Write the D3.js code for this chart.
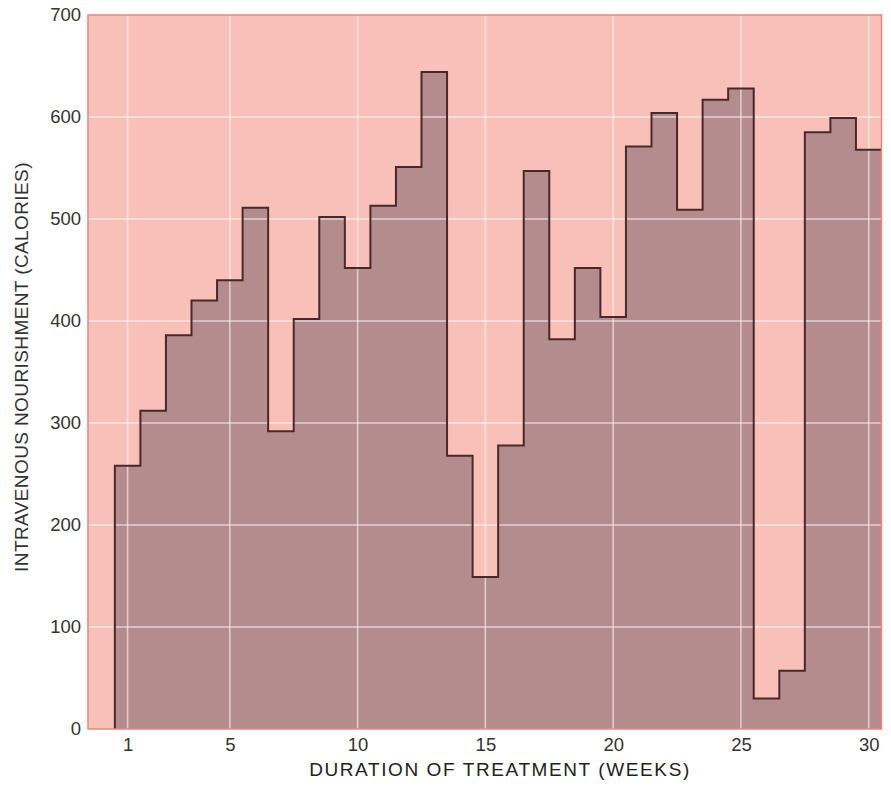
<!DOCTYPE html>
<html>
<head>
<meta charset="utf-8">
<script src="https://cdn.jsdelivr.net/npm/d3@7"></script>
<style>
  html, body { margin: 0; padding: 0; background: #ffffff; }
  svg { display: block; }
  text { font-family: "Liberation Sans", Arial, Helvetica, sans-serif; }
</style>
</head>
<body>
<svg id="chart" width="891" height="789"></svg>
<script>
// Weekly intravenous nourishment (calories)
const weeks = [1, 2, 3, 4, 5, 6, 7, 8, 9, 10, 11, 12, 13, 14, 15,
               16, 17, 18, 19, 20, 21, 22, 23, 24, 25, 26, 27, 28, 29, 30];
const calories = [258, 312, 386, 420, 440, 511, 292, 402, 502, 452,
                  513, 551, 644, 268, 149, 278, 547, 382, 452, 404,
                  571, 604, 509, 617, 628, 30, 57, 585, 599, 568];
const xTicks = [1, 5, 10, 15, 20, 25, 30];
const yTicks = [0, 100, 200, 300, 400, 500, 600, 700];
const yGrid = [100, 200, 300, 400, 500, 600];

const svg = d3.select("#chart");
const plotL = 88, plotR = 881.5, plotT = 15, plotB = 729;

const x = d3.scaleLinear().domain([-0.55, 30.5]).range([plotL, plotR]);
const y = d3.scaleLinear().domain([0, 700]).range([plotB, plotT]);

// plot background
svg.append("rect")
  .attr("x", plotL).attr("y", plotT)
  .attr("width", plotR - plotL).attr("height", plotB - plotT)
  .attr("fill", "#f9c0b9");

// step series: each week spans [w - 0.5, w + 0.5]
const pts = weeks.map((w, i) => [w - 0.5, calories[i]]);
pts.push([weeks[weeks.length - 1] + 0.5, calories[calories.length - 1]]);

const area = d3.area()
  .x(d => x(d[0])).y0(y(0)).y1(d => y(d[1]))
  .curve(d3.curveStepAfter);

svg.append("path")
  .datum(pts)
  .attr("d", area)
  .attr("fill", "#b48c8d");

// white grid
const grid = svg.append("g")
  .attr("stroke", "#ffffff")
  .attr("stroke-opacity", 0.6)
  .attr("stroke-width", 1.5);
grid.selectAll("line.h").data(yGrid).join("line")
  .attr("class", "h")
  .attr("x1", plotL).attr("x2", plotR)
  .attr("y1", d => y(d)).attr("y2", d => y(d));
grid.selectAll("line.v").data(xTicks).join("line")
  .attr("class", "v")
  .attr("x1", d => x(d)).attr("x2", d => x(d))
  .attr("y1", plotT).attr("y2", plotB);

// outline of the steps
const line = d3.line()
  .x(d => x(d[0])).y(d => y(d[1]))
  .curve(d3.curveStepAfter);
svg.append("path")
  .datum([[weeks[0] - 0.5, 0]].concat(pts))
  .attr("d", line)
  .attr("fill", "none")
  .attr("stroke", "#4a2828")
  .attr("stroke-width", 2)
  .attr("stroke-linejoin", "miter");

// plot frame
svg.append("rect")
  .attr("x", plotL).attr("y", plotT)
  .attr("width", plotR - plotL).attr("height", plotB - plotT)
  .attr("fill", "none")
  .attr("stroke", "#e8877d")
  .attr("stroke-width", 1.5);

// axes
const yAxis = svg.append("g")
  .attr("transform", `translate(${plotL},0)`)
  .call(d3.axisLeft(y).tickValues(yTicks).tickSize(0).tickPadding(7));
const xAxis = svg.append("g")
  .attr("transform", `translate(0,${plotB})`)
  .call(d3.axisBottom(x).tickValues(xTicks).tickSize(0).tickPadding(9));
[yAxis, xAxis].forEach(g => {
  g.select(".domain").remove();
  g.selectAll("text")
    .attr("fill", "#333333")
    .style("font-size", "18.5px")
    .style("font-family", "'Liberation Sans', Arial, Helvetica, sans-serif");
});

// axis titles
svg.append("text")
  .attr("x", 500).attr("y", 776)
  .attr("text-anchor", "middle")
  .attr("fill", "#222222")
  .style("font-size", "19px")
  .style("letter-spacing", "1.6px")
  .text("DURATION OF TREATMENT (WEEKS)");

svg.append("text")
  .attr("transform", "translate(28,367) rotate(-90)")
  .attr("text-anchor", "middle")
  .attr("fill", "#333333")
  .style("font-size", "19px")
  .style("letter-spacing", "0.4px")
  .text("INTRAVENOUS NOURISHMENT (CALORIES)");
</script>
</body>
</html>
